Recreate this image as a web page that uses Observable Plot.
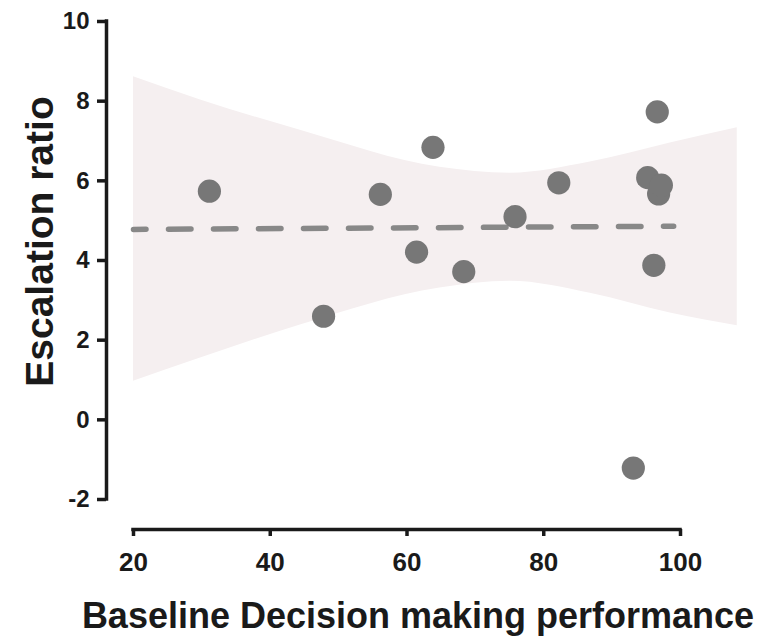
<!DOCTYPE html>
<html>
<head>
<meta charset="utf-8">
<script src="https://cdn.jsdelivr.net/npm/d3@7"></script>
<script src="https://cdn.jsdelivr.net/npm/@observablehq/plot@0.6"></script>
<style>
  html, body { margin: 0; padding: 0; background: #ffffff; }
  #chart svg { display: block; }
</style>
</head>
<body>
<div id="chart"></div>
<script>
// Scatter data: baseline decision making performance vs escalation ratio
const xPerf = [31.1, 47.8, 56.1, 61.4, 63.8, 68.3, 75.8, 82.2, 93.1, 95.2, 96.1, 96.6, 96.8, 97.2];
const yEsc  = [5.74, 2.60, 5.66, 4.21, 6.84, 3.72, 5.10, 5.95, -1.21, 6.08, 3.88, 7.73, 5.67, 5.89];

// Regression fit line (dashed)
const fitX = [20, 99];
const fitY = [4.78, 4.86];

// Confidence band
const bandX     = [20,   29.8, 44.4, 64.8, 75.1, 86.8, 98.5, 108.3];
const bandUpper = [8.61, 8.03, 7.27, 6.34, 6.19, 6.47, 6.95, 7.33];
const bandLower = [0.97, 1.55, 2.38, 3.31, 3.48, 3.18, 2.68, 2.36];

// Axes
const xTicks = [20, 40, 60, 80, 100];
const yTicks = [-2, 0, 2, 4, 6, 8, 10];
const xTitle = "Baseline Decision making performance";
const yTitle = "Escalation ratio";

const points = xPerf.map((x, i) => ({x, y: yEsc[i]}));
const band = bandX.map((x, i) => ({x, hi: bandUpper[i], lo: bandLower[i]}));
const fit = fitX.map((x, i) => ({x, y: fitY[i]}));

const ink = "#1a1a1a";

const chart = Plot.plot({
  width: 774,
  height: 640,
  marginLeft: 133,
  marginRight: 94,
  marginTop: 21,
  marginBottom: 141,
  style: {
    fontFamily: "'Liberation Sans', Arial, Helvetica, sans-serif",
    fontWeight: "bold",
    background: "#ffffff",
    overflow: "visible"
  },
  x: {domain: [20, 100]},
  y: {domain: [-2, 10]},
  marks: [
    Plot.areaY(band, {x: "x", y1: "lo", y2: "hi", curve: "monotone-x", fill: "#f5eff0"}),
    Plot.line(fit, {
      x: "x", y: "y", stroke: "#888888", strokeWidth: 5.5,
      strokeDasharray: "22.5,22.5", strokeDashoffset: 10, strokeLinecap: "round"
    }),
    Plot.dot(points, {x: "x", y: "y", r: 11.6, fill: "#777777", stroke: "none"}),
    // Offset y axis
    Plot.ruleX([20], {y1: -2, y2: 10, dx: -27, stroke: ink, strokeWidth: 3.5, strokeLinecap: "square"}),
    Plot.axisY({
      ticks: yTicks, tickSize: 9, tickPadding: 8, dx: -27,
      stroke: ink, strokeWidth: 3.5, fill: ink,
      fontSize: 24, fontWeight: "bold", label: null, tickFormat: d => String(d)
    }),
    // Offset x axis
    Plot.ruleY([-2], {x1: 20, x2: 100, dy: 30, stroke: ink, strokeWidth: 3.5, strokeLinecap: "square"}),
    Plot.axisX({
      ticks: xTicks, tickSize: 7, tickPadding: 16, dy: 30,
      stroke: ink, strokeWidth: 3.5, fill: ink,
      fontSize: 26, fontWeight: "bold", label: null, tickFormat: d => String(d)
    }),
    Plot.text([xTitle], {
      frameAnchor: "bottom", textAnchor: "middle", lineAnchor: "bottom",
      dx: 11, dy: 128, fontSize: 36, fontWeight: "bold", fill: ink
    }),
    Plot.text([yTitle], {
      frameAnchor: "left", textAnchor: "middle", lineAnchor: "bottom", rotate: -90,
      dx: -81, dy: -19, fontSize: 39, fontWeight: "bold", fill: ink
    })
  ]
});

document.getElementById("chart").appendChild(chart);
</script>
</body>
</html>
